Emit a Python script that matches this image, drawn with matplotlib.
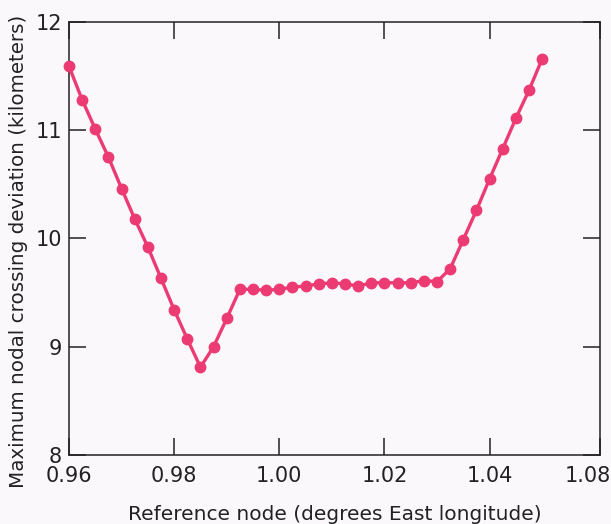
import matplotlib
matplotlib.use('Agg')
import matplotlib.pyplot as plt
import matplotlib.transforms as mtransforms

# reference node longitude (deg E), one point every 0.0025 deg
node = [0.96 + 0.0025 * i for i in range(37)]

deviation = [11.59, 11.28, 11.01, 10.75, 10.46, 10.18, 9.92, 9.63, 9.34, 9.07,
             8.81, 9.00, 9.26, 9.53, 9.53, 9.52, 9.53, 9.55, 9.56, 9.58,
             9.59, 9.58, 9.56, 9.59, 9.59, 9.59, 9.59, 9.61, 9.60, 9.72,
             9.99, 10.26, 10.55, 10.83, 11.11, 11.37, 11.66]

xtick_pos = [0.96, 0.98, 1.00, 1.02, 1.04, 1.061]
xtick_lab = ['0.96', '0.98', '1.00', '1.02', '1.04', '1.08']
ytick_pos = [8, 9, 10, 11, 12]

bg = '#fbf8fc'
pink = '#ec3a72'
ink = '#222222'

plt.rcParams['font.family'] = ['DejaVu Sans']

fig = plt.figure(figsize=(6.11, 5.24), dpi=100, facecolor=bg)
ax = fig.add_axes([0.113, 0.132, 0.869, 0.826])
ax.set_facecolor(bg)

ax.plot(node, deviation, color=pink, lw=2.4, marker='o', ms=7.5,
        mec=pink, mfc=pink, clip_on=False, zorder=3)

ax.set_xlim(0.96, 1.061)
ax.set_ylim(8, 12)
ax.set_xticks(xtick_pos)
ax.set_xticklabels(xtick_lab)
ax.set_yticks(ytick_pos)
ax.set_yticklabels([str(v) for v in ytick_pos])

ax.tick_params(direction='in', length=12, width=1.1, labelsize=15,
               top=True, right=True, colors=ink)
ax.tick_params(axis='x', pad=8)
ax.tick_params(axis='y', pad=5)
for s in ax.spines.values():
    s.set_linewidth(1.1)
    s.set_color(ink)

# last x label sits a little left of the frame corner
shift = mtransforms.ScaledTranslation(-12 / 100, 0, fig.dpi_scale_trans)
last = ax.get_xticklabels()[-1]
last.set_transform(last.get_transform() + shift)

ax.set_xlabel('Reference node (degrees East longitude)', fontsize=14.5,
              labelpad=14, color=ink)
ax.set_ylabel('Maximum nodal crossing deviation (kilometers)', fontsize=14.3,
              color=ink, va='center')
ax.yaxis.set_label_coords(-0.096, 0.47)

fig.savefig('out.png', dpi=100, facecolor=bg)
